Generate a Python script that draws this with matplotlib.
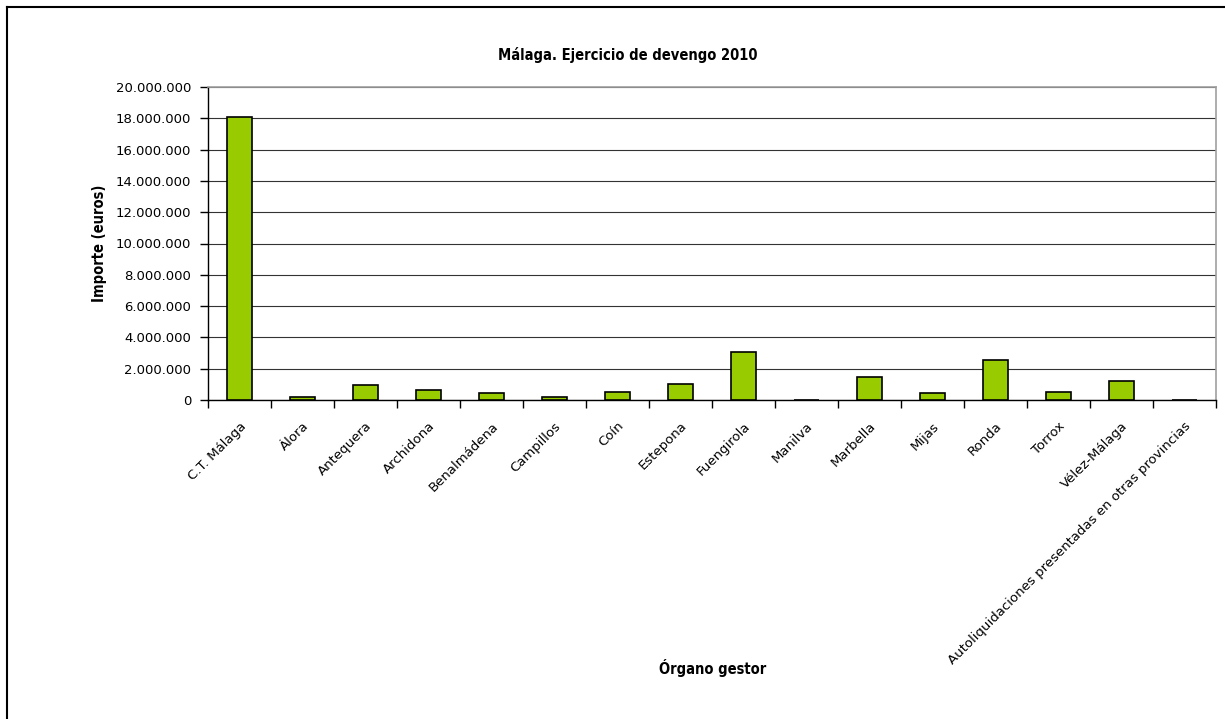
import matplotlib
matplotlib.use("Agg")
import matplotlib.pyplot as plt
from matplotlib.lines import Line2D
from matplotlib.ticker import FuncFormatter, MultipleLocator
import numpy as np

categories = ["C.T. Málaga", "Álora", "Antequera", "Archidona", "Benalmádena",
              "Campillos", "Coín", "Estepona", "Fuengirola", "Manilva",
              "Marbella", "Mijas", "Ronda", "Torrox", "Vélez-Málaga",
              "Autoliquidaciones presentadas en otras provincias"]
values = [18100000, 190000, 960000, 640000, 430000,
          210000, 520000, 1030000, 3070000, 30000,
          1500000, 430000, 2570000, 520000, 1200000,
          30000]

title = "Málaga. Ejercicio de devengo 2010"
ylabel = "Importe (euros)"
xlabel = "Órgano gestor"

W, H = 1225, 719
fig = plt.figure(figsize=(W / 100, H / 100), dpi=100)
fig.patch.set_facecolor("white")

# outer chart frame (left and top edges visible)
fig.add_artist(Line2D([7 / W, 7 / W], [0, 1 - 7 / H], transform=fig.transFigure,
                      color="black", lw=1.5))
fig.add_artist(Line2D([7 / W, 1], [1 - 7 / H, 1 - 7 / H], transform=fig.transFigure,
                      color="black", lw=1.5))

left, right, bottom, top = 208 / W, 1216 / W, 1 - 400 / H, 1 - 87 / H
ax = fig.add_axes([left, bottom, right - left, top - bottom])

x = np.arange(len(categories))
ax.bar(x, values, width=0.4, color="#99CC00", edgecolor="black", linewidth=1.2, zorder=3)

ax.set_xlim(-0.5, len(categories) - 0.5)
ax.set_ylim(0, 20000000)
ax.yaxis.set_major_locator(MultipleLocator(2000000))
ax.yaxis.set_major_formatter(FuncFormatter(lambda v, p: f"{int(v):,}".replace(",", ".")))
ax.grid(axis="y", color="#333333", linewidth=0.8, zorder=0)
ax.set_axisbelow(True)

for s in ["top", "right"]:
    ax.spines[s].set_color("#a0a0a0")
    ax.spines[s].set_linewidth(1.2)
for s in ["left", "bottom"]:
    ax.spines[s].set_color("black")
    ax.spines[s].set_linewidth(1.0)

ax.tick_params(axis="y", direction="out", length=6, width=1, labelsize=9.5, pad=6, colors="black")
ax.set_xticks(np.arange(len(categories) + 1) - 0.5, minor=False)
ax.set_xticklabels([])
ax.set_xticks(x, minor=True)
ax.set_xticklabels(categories, minor=True, rotation=45, ha="right",
                   rotation_mode="anchor", fontsize=9.5)
ax.tick_params(axis="x", which="major", direction="out", length=6, width=1)
ax.tick_params(axis="x", which="minor", length=0, pad=14)

fam = ["DejaVu Sans"]
fig.text(628 / W, 1 - 55 / H, title, ha="center", va="center",
         fontsize=10.5, fontweight="bold", fontstretch="condensed", family=fam)
fig.text(100 / W, 1 - 243 / H, ylabel, ha="center", va="center", rotation=90,
         fontsize=10.5, fontweight="bold", fontstretch="condensed", family=fam)
fig.text(713 / W, 1 - 668 / H, xlabel, ha="center", va="center",
         fontsize=10.5, fontweight="bold", fontstretch="condensed", family=fam)

fig.savefig("out.png", dpi=100, facecolor="white")
